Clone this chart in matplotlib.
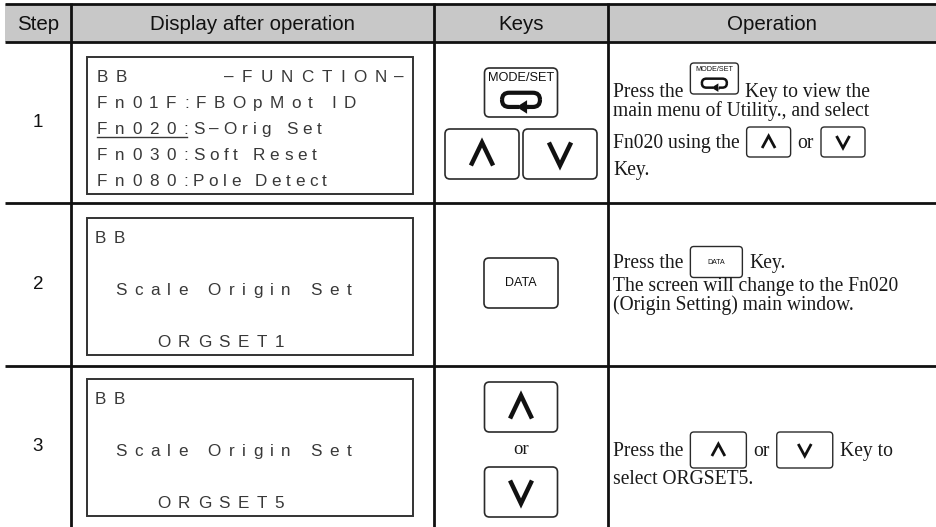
import matplotlib
matplotlib.use("Agg")
import matplotlib.pyplot as plt
from matplotlib.font_manager import FontProperties, findfont
from matplotlib.ft2font import FT2Font
from matplotlib.patches import FancyBboxPatch, Polygon, Rectangle

try:
    from matplotlib.ft2font import LoadFlags
    NO_HINT = LoadFlags.NO_HINTING
except ImportError:  # older matplotlib
    from matplotlib.ft2font import LOAD_NO_HINTING as NO_HINT

W, H = 937, 527

# ---- table content -------------------------------------------------------
headers = ["Step", "Display after operation", "Keys", "Operation"]
steps = ["1", "2", "3"]

lcd_lines = [
    ["BB", "Fn01F:FBOpMot ID", "Fn020:S–Orig Set", "Fn030:Soft Reset", "Fn080:Pole Detect"],
    ["BB", "", "Scale Origin Set", "", "ORGSET1"],
    ["BB", "", "Scale Origin Set", "", "ORGSET5"],
]
lcd_status = ["–FUNCTION–", "", ""]
lcd_selected = [2, None, None]          # line whose "FnXXX:" part is underlined

keys_column = [["mode", "up", "down"], ["data"], ["up", "or", "down"]]

op_lines = [
    [["Press the", "{mode}", "Key to view the"],
     ["main menu of Utility., and select"],
     ["Fn020 using the", "{up}", "or", "{down}"],
     ["Key."]],
    [["Press the", "{data}", "Key."],
     ["The screen will change to the Fn020"],
     ["(Origin Setting) main window."]],
    [["Press the", "{up}", "or", "{down}", "Key to"],
     ["select ORGSET5."]],
]

# ---- layout ---------------------------------------------------------------
COLS = [5, 71, 434, 608, W]
ROWS = [4, 42, 203, 366, H]
LCD_X0, LCD_X1 = 87, 413
LCD_TOPS = [57, 218, 379]
LCD_H = 137
LCD_INDENT = [[10, 10, 10, 10, 10], [8, 0, 28, 0, 70], [8, 0, 28, 0, 70]]
LCD_TAIL_TRACK = [[7.5, 7.2, 5.0, 4.9, 4.6], [7.5] * 5, [7.5] * 5]
LCD_SIZE = 12.3
OP_SIZE = 14.1
OP_X = 613
OP_Y = [[91, 110, 142, 169], [262, 285, 304], [450, 478]]
INLINE = [{"mode": (48, 31), "up": (44, 30), "down": (44, 30)},
          {"data": (52, 31)},
          {"up": (56, 36), "down": (56, 36)}]

LINE = "#111111"
BOX = "#2a2a2a"
LCD_INK = "#383838"
TXT = "#1a1a1a"
SANS = "Liberation Sans"
SERIF = "Liberation Serif"

fig = plt.figure(figsize=(W / 100, H / 100), dpi=100)
ax = fig.add_axes([0, 0, 1, 1])
ax.set_xlim(0, W)
ax.set_ylim(H, 0)
ax.axis("off")
renderer = fig.canvas.get_renderer()

lcd_font = FT2Font(findfont(FontProperties(family=SANS)))


def advances(s, size):
    lcd_font.set_size(size, 100)
    return [lcd_font.load_char(ord(c), flags=NO_HINT).linearHoriAdvance / 65536 for c in s]


def spaced(x, yb, s, size, track):
    for ch, adv in zip(s, advances(s, size)):
        if ch != " ":
            ax.text(x + adv / 2, yb, ch, ha="center", va="baseline", fontsize=size,
                    family=SANS, color=LCD_INK)
        x += adv + track
    return x - track


def rbox(x0, y0, w, h, r, lw):
    ax.add_patch(FancyBboxPatch((x0 + r, y0 + r), w - 2 * r, h - 2 * r,
                                boxstyle=f"round,pad={r}", facecolor="white",
                                edgecolor=BOX, lw=lw))


def chevron(cx, cy, w, h, up, lw):
    s = 1 if up else -1
    ax.plot([cx - w / 2, cx, cx + w / 2], [cy + s * h / 2, cy - s * h / 2, cy + s * h / 2],
            color="#111111", lw=lw, solid_joinstyle="miter", solid_capstyle="butt")


def mode_icon(cx, cy, w, h, lw):
    ax.add_patch(FancyBboxPatch((cx - w / 2, cy - h / 2), w, h,
                                boxstyle=f"round,pad=0,rounding_size={h / 2}",
                                fill=False, edgecolor="#111111", lw=lw))
    ah = h * 0.95
    ax.add_patch(Rectangle((cx - w * 0.05, cy + h / 2 - ah / 2), w * 0.22, ah,
                           facecolor="white", edgecolor="none"))
    ax.add_patch(Polygon([(cx - w * 0.12, cy + h / 2), (cx + w * 0.16, cy + h / 2 - ah / 2),
                          (cx + w * 0.16, cy + h / 2 + ah / 2)], closed=True,
                         facecolor="#111111", edgecolor="none"))
    ax.plot([cx + w * 0.16, cx + w * 0.2], [cy + h / 2, cy + h / 2], color="#111111", lw=lw,
            solid_capstyle="butt")


def key(kind, x0, y0, w, h, big):
    r = 5 if big else 3.5
    rbox(x0, y0, w, h, r, 1.2 if big else 1.0)
    cx, cy = x0 + w / 2, y0 + h / 2
    if kind in ("up", "down"):
        if big:
            chevron(cx, cy, w * 0.3, h * 0.46, kind == "up", 3.2)
        else:
            chevron(cx, cy, 13, 12, kind == "up", 2.0)
    elif kind == "data":
        ax.text(cx, cy, "DATA", ha="center", va="center", family=SANS,
                fontsize=9 if big else 5, color="#111111")
    elif kind == "mode":
        ax.text(cx, y0 + h * 0.21, "MODE/SET", ha="center", va="center", family=SANS,
                fontsize=9.2 if big else 5.2, color="#111111")
        mode_icon(cx, y0 + h * 0.65, w * 0.52, h * 0.29, 3.0 if big else 1.8)


# ---- header and grid ------------------------------------------------------
ax.add_patch(Rectangle((COLS[0], ROWS[0]), W - COLS[0], ROWS[1] - ROWS[0],
                       facecolor="#c8c8c8", edgecolor="none"))
for i, name in enumerate(headers):
    ax.text((COLS[i] + COLS[i + 1]) / 2, (ROWS[0] + ROWS[1]) / 2 + 1, name, ha="center",
            va="center", fontsize=14.8, family=SANS, color="#111111")
for y in ROWS[:-1]:
    ax.plot([COLS[0], W], [y, y], color=LINE, lw=2.0, solid_capstyle="butt")
for x in COLS[1:-1]:
    ax.plot([x, x], [ROWS[0] - 1, H], color=LINE, lw=2.0, solid_capstyle="butt")

for i, s in enumerate(steps):
    ax.text((COLS[0] + COLS[1]) / 2, (ROWS[i + 1] + ROWS[i + 2]) / 2, s, ha="center",
            va="center", fontsize=13.5, family=SANS, color="#111111")

# ---- LCD screens ----------------------------------------------------------
cap = 0.716 * LCD_SIZE / 0.72
for r, lines in enumerate(lcd_lines):
    top = LCD_TOPS[r]
    ax.add_patch(Rectangle((LCD_X0, top), LCD_X1 - LCD_X0, LCD_H, facecolor="white",
                           edgecolor="#333333", lw=1.4))
    for j, line in enumerate(lines):
        if not line:
            continue
        yc = top + 18.5 + 26.2 * j
        yb = yc + cap / 2
        x = LCD_X0 + LCD_INDENT[r][j]
        if ":" in line:
            head, tail = line.split(":", 1)
            x_end = spaced(x, yb, head + ":", LCD_SIZE, 7.5)
            if lcd_selected[r] == j:
                ax.plot([x, x_end - 1], [yc + 9.5, yc + 9.5], color=LCD_INK, lw=1.0)
            spaced(x_end + LCD_TAIL_TRACK[r][j], yb, tail, LCD_SIZE, LCD_TAIL_TRACK[r][j])
        else:
            spaced(x, yb, line, LCD_SIZE, 7.5)
        if j == 0 and lcd_status[r]:
            adv = advances(lcd_status[r], LCD_SIZE)
            width = sum(adv) + 8 * (len(adv) - 1)
            spaced(LCD_X1 - 9 - width, yb, lcd_status[r], LCD_SIZE, 8)

# ---- keys column ----------------------------------------------------------
kc = (COLS[2] + COLS[3]) / 2
key("mode", kc - 36.5, 68, 73, 49, True)
key("up", 445, 129, 74, 50, True)
key("down", 523, 129, 74, 50, True)
key("data", kc - 37, 258, 74, 50, True)
key("up", kc - 36.5, 382, 73, 50, True)
ax.text(kc, 449, "or", ha="center", va="center", family=SERIF, fontsize=13.5, color=TXT)
key("down", kc - 36.5, 467, 73, 50, True)

# ---- operation text with inline keys ---------------------------------------
op_cap = 0.662 * OP_SIZE / 0.72
for r, lines in enumerate(op_lines):
    for j, tokens in enumerate(lines):
        yc = OP_Y[r][j]
        x = OP_X
        for k, tok in enumerate(tokens):
            if tok.startswith("{"):
                kind = tok[1:-1]
                w, h = INLINE[r][kind]
                y0 = yc - h + 3 if kind == "mode" else yc - h / 2
                key(kind, x + 7, y0, w, h, False)
                x += w + 14
            else:
                t = ax.text(x, yc + op_cap / 2, tok, ha="left", va="baseline", family=SERIF,
                            fontsize=OP_SIZE, color=TXT)
                x += t.get_window_extent(renderer).width

fig.savefig("out.png", dpi=100)
